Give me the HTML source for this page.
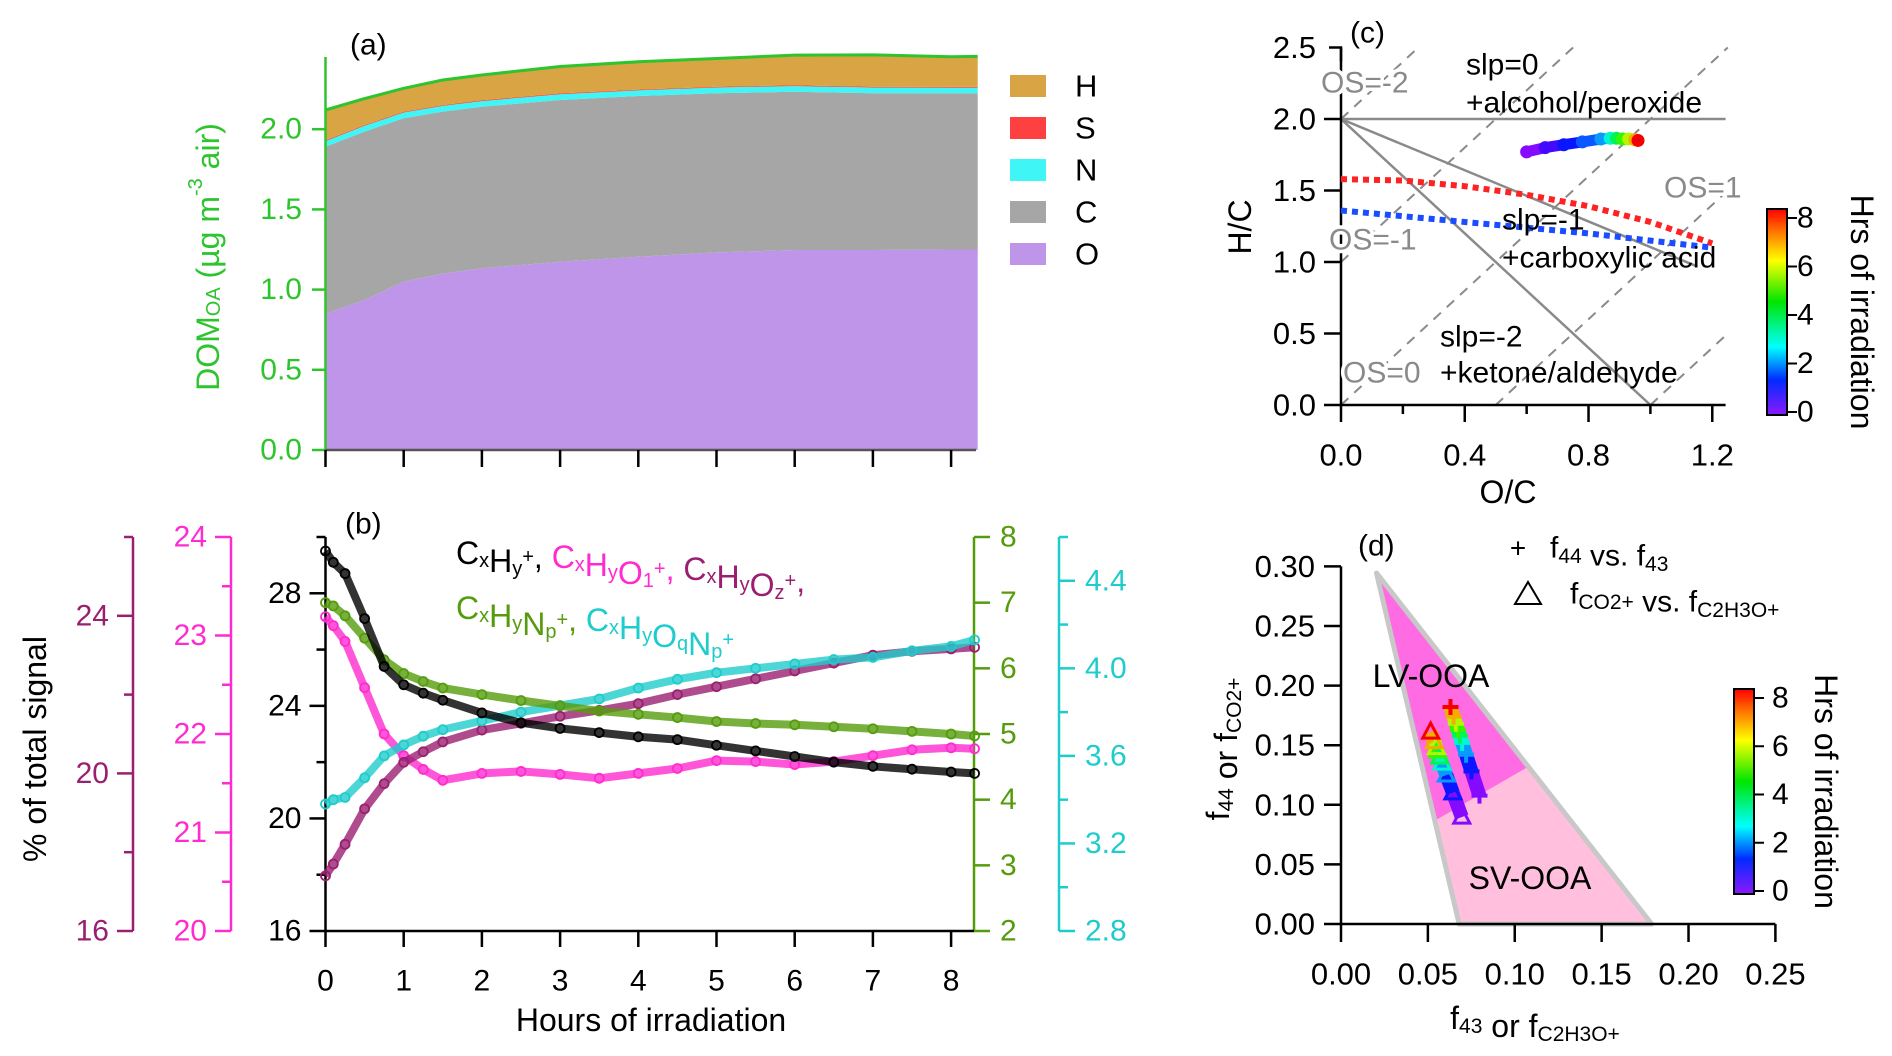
<!DOCTYPE html>
<html><head><meta charset="utf-8">
<style>
html,body{margin:0;padding:0;background:#fff;}
svg{display:block;font-family:"Liberation Sans",Arial,sans-serif;}
</style></head>
<body>
<svg id="fig" xmlns="http://www.w3.org/2000/svg" width="1892" height="1056" viewBox="0 0 1892 1056">
<defs>
<linearGradient id="rainbow" x1="0" y1="1" x2="0" y2="0">
<stop offset="0" stop-color="hsl(270,100%,55%)"/>
<stop offset="0.17" stop-color="hsl(230,100%,50%)"/>
<stop offset="0.33" stop-color="hsl(180,100%,50%)"/>
<stop offset="0.55" stop-color="hsl(120,100%,45%)"/>
<stop offset="0.75" stop-color="hsl(60,100%,50%)"/>
<stop offset="0.9" stop-color="hsl(25,100%,50%)"/>
<stop offset="1" stop-color="hsl(0,100%,50%)"/>
</linearGradient>
</defs>
<rect width="1892" height="1056" fill="#fff"/>
</svg>
<script>
// ---------- Panel (a) data ----------
const tA = [0,0.5,1,1.5,2,3,4,5,6,7,8,8.34];
const compO = [0.85,0.935,1.05,1.10,1.133,1.174,1.205,1.232,1.247,1.247,1.25,1.25];
const compC = [1.04,1.05,1.018,1.01,1.007,1.008,1.002,0.992,0.987,0.977,0.974,0.974];
const compN = [0.035,0.036,0.036,0.035,0.035,0.036,0.035,0.036,0.035,0.036,0.035,0.035];
const compS = [0.005,0.005,0.005,0.005,0.005,0.005,0.005,0.005,0.005,0.005,0.005,0.005];
const compH = [0.19,0.165,0.146,0.157,0.158,0.168,0.173,0.176,0.188,0.198,0.188,0.19];
const legendA = ["H","S","N","C","O"];
const ticksAy = [0,0.5,1.0,1.5,2.0];
// ---------- Panel (b) data ----------
const tB = [0,0.1,0.25,0.5,0.75,1,1.25,1.5,2,2.5,3,3.5,4,4.5,5,5.5,6,6.5,7,7.5,8,8.3];
const sBlack = [29.5,29.1,28.7,27.1,25.4,24.75,24.45,24.2,23.75,23.4,23.2,23.05,22.9,22.8,22.6,22.4,22.2,22.0,21.85,21.75,21.65,21.6];
const sGreen = [7.0,6.95,6.8,6.46,6.13,5.92,5.8,5.7,5.6,5.51,5.43,5.35,5.3,5.25,5.19,5.16,5.14,5.11,5.08,5.04,5.0,4.97];
const sMagenta = [23.19,23.1,22.94,22.47,22.0,21.78,21.64,21.53,21.6,21.62,21.59,21.55,21.6,21.65,21.73,21.72,21.69,21.72,21.78,21.84,21.86,21.85];
const sPurple = [17.4,17.7,18.2,19.1,19.74,20.28,20.55,20.8,21.1,21.27,21.45,21.6,21.77,22.0,22.2,22.4,22.6,22.8,23.0,23.1,23.16,23.2];
const sCyan = [3.38,3.4,3.41,3.5,3.6,3.65,3.69,3.72,3.76,3.8,3.83,3.86,3.91,3.95,3.98,4.0,4.02,4.04,4.05,4.08,4.1,4.13];
const ticksBx = [0,1,2,3,4,5,6,7,8];
const ticksBlack = [16,20,24,28];
const ticksPurple = [16,20,24];
const ticksMagenta = [20,21,22,23,24];
const ticksGreen = [2,3,4,5,6,7,8];
const ticksCyan = ["2.8","3.2","3.6","4.0","4.4"];
// ---------- Panel (c) data ----------
const tC = [0,0.5,1,1.5,2,3,4,5,6,7,8.3];
const ocC = [0.60,0.66,0.72,0.78,0.84,0.87,0.89,0.91,0.93,0.95,0.96];
const hcC = [1.77,1.80,1.82,1.84,1.86,1.865,1.865,1.86,1.86,1.855,1.85];
const ocCurve = [0,0.2,0.4,0.6,0.8,1.0,1.2];
const hcRed = [1.58,1.57,1.53,1.47,1.39,1.28,1.13];
const hcBlue = [1.36,1.32,1.28,1.24,1.2,1.15,1.1];
const ticksCx = ["0.0","0.4","0.8","1.2"];
const ticksCy = ["0.0","0.5","1.0","1.5","2.0","2.5"];
// ---------- Panel (d) data ----------
const tD = [0,1,2,3,4,5,6,7,8.3];
const f43Tri = [0.0695,0.0644,0.0606,0.0581,0.0569,0.0556,0.0549,0.0536,0.0516];
const f44Tri = [0.0897,0.11,0.125,0.135,0.14,0.145,0.148,0.153,0.161];
const f43Cross = [0.0797,0.0751,0.072,0.0697,0.0684,0.0673,0.0661,0.0648,0.063];
const f44Cross = [0.1077,0.128,0.142,0.152,0.158,0.163,0.168,0.174,0.182];
const ticksDx = ["0.00","0.05","0.10","0.15","0.20","0.25"];
const ticksDy = ["0.00","0.05","0.10","0.15","0.20","0.25","0.30"];
const ticksBar = [0,2,4,6,8];

const NS = "http://www.w3.org/2000/svg";
const svg = document.getElementById('fig');
function mk(tag, attrs, parent){
  const e = document.createElementNS(NS, tag);
  for (const k in attrs) e.setAttribute(k, attrs[k]);
  (parent||svg).appendChild(e);
  return e;
}
function txt(x,y,s,size,fill,anchor,extra){
  const e = mk('text', Object.assign({x:x,y:y,'font-size':size,fill:fill,'text-anchor':anchor||'start','dominant-baseline':'central'}, extra||{}));
  e.innerHTML = s;
  return e;
}
function tcol(t){ const h = Math.max(0, 270*(1 - t/8.3)); return 'hsl('+h.toFixed(0)+',100%,'+(h>200?52:48)+'%)'; }

// ====== Panel (a) ======
const XA = t => 325.5 + t*78.2;
const YA = v => 450 - v*160.4;
const green = '#2ec42e';
const aColors = {O:'#bf95ea', C:'#a6a6a6', N:'#3ff5f5', S:'#ff4040', H:'#d9a443'};
const comps = [['O',compO],['C',compC],['N',compN],['S',compS],['H',compH]];
let base = tA.map(()=>0);
comps.forEach(([k,arr])=>{
  const top = base.map((b,i)=>b+arr[i]);
  let d = 'M'+tA.map((t,i)=>XA(t).toFixed(1)+','+YA(top[i]).toFixed(1)).join('L');
  for (let i=tA.length-1;i>=0;i--) d += 'L'+XA(tA[i]).toFixed(1)+','+YA(base[i]).toFixed(1);
  const p = mk('path',{d:d+'Z',fill:aColors[k]});
  
  
  base = top;
});
{
  const p = mk('polyline',{points:tA.map((t,i)=>XA(t).toFixed(1)+','+YA(base[i]).toFixed(1)).join(' '),fill:'none',stroke:green,'stroke-width':3});
  
  
}
{
  const ax = mk('line',{x1:325.5,y1:57,x2:325.5,y2:450,stroke:green,'stroke-width':2.5});
  
  
  const bx = mk('line',{x1:325.5,y1:450,x2:976,y2:450,stroke:'#555','stroke-width':2.5});
  
  
}
ticksAy.forEach(v=>{
  const l = mk('line',{x1:312,y1:YA(v),x2:325.5,y2:YA(v),stroke:green,'stroke-width':2.5});
  
  
  const t = txt(302,YA(v),v.toFixed(1),30,green,'end');
  
  
});
ticksBx.forEach(v=>{
  const l = mk('line',{x1:XA(v),y1:450,x2:XA(v),y2:467,stroke:'#000','stroke-width':2.5});
  
  
});
{
  const t = txt(0,0,'DOM<tspan font-size="20" dy="6">OA</tspan><tspan dy="-6"> (µg m</tspan><tspan font-size="20" dy="-12">-3</tspan><tspan dy="12"> air)</tspan>',32,green,'middle',{transform:'translate(208,257) rotate(-90)'});
  
  
  const lab = txt(350,45,'(a)',30,'#000','start');
  
  
}
legendA.forEach((k,i)=>{
  const y = 86 + i*42;
  const r = mk('rect',{x:1010,y:y-11,width:36,height:22,fill:aColors[k]});
  
  
  const t = txt(1075,y,k,31,'#000','start');
  
  
});

// ====== Panel (b) ======
const XB = t => 325.5 + t*78.2;
const BT = 537, BB = 931;
const scale = (lo,hi) => v => BB - (v-lo)/(hi-lo)*(BB-BT);
const YBlack = scale(16,30), YPurple = scale(16,26), YMag = scale(20,24), YGreen = scale(2,8), YCyan = scale(2.8,4.6);
const cBlack='#000', cPurple='#9a1f70', cMag='#ff2bd0', cGreen='#559c0c', cCyan='#1fcccc';
function yAxis(x, ticks, yf, col, labelSide, minor, name){
  const ax = mk('line',{x1:x,y1:BT,x2:x,y2:BB,stroke:col,'stroke-width':2.5});
  
  
  (minor||[]).forEach(v=>{
    const l = mk('line',{x1:x,y1:yf(v),x2:x+(labelSide==='left'?-9:9),y2:yf(v),stroke:col,'stroke-width':2.5});
    
    
  });
  ticks.forEach(v=>{
    const n = parseFloat(v);
    const l = mk('line',{x1:x,y1:yf(n),x2:x+(labelSide==='left'?-16:16),y2:yf(n),stroke:col,'stroke-width':2.5});
    
    
    const t = txt(x+(labelSide==='left'?-24:26),yf(n),String(v),30,col,labelSide==='left'?'end':'start');
    
    
  });
}
yAxis(133, ticksPurple, YPurple, cPurple, 'left', [18,22,26], 'purple-y');
yAxis(231, ticksMagenta, YMag, cMag, 'left', [20.5,21.5,22.5,23.5], 'magenta-y');
yAxis(325.5, ticksBlack, YBlack, cBlack, 'left', [18,22,26,30], 'black-y');
yAxis(974, ticksGreen, YGreen, cGreen, 'right', [], 'green-y');
yAxis(1059, ticksCyan, YCyan, cCyan, 'right', [3.0,3.4,3.8,4.2,4.6], 'cyan-y');
{
  const bx = mk('line',{x1:325.5,y1:BB,x2:974,y2:BB,stroke:'#000','stroke-width':2.5});
  
  
}
ticksBx.forEach(v=>{
  const l = mk('line',{x1:XB(v),y1:BB,x2:XB(v),y2:BB+16,stroke:'#000','stroke-width':2.5});
  
  
  const t = txt(XB(v),BB+50,String(v),30,'#000','middle');
  
  
});
function series(vals, yf, col, name){
  const pl = mk('polyline',{points:tB.map((t,i)=>XB(t).toFixed(1)+','+yf(vals[i]).toFixed(1)).join(' '),fill:'none',stroke:col,'stroke-width':8,'stroke-opacity':0.8,'stroke-linejoin':'round'});
  
  
  tB.forEach((t,i)=>{
    const c = mk('circle',{cx:XB(t),cy:yf(vals[i]),r:4.5,fill:'none',stroke:col,'stroke-width':1.8});
    
    
  });
}
series(sMagenta, YMag, cMag, 'cxhyo1');
series(sPurple, YPurple, cPurple, 'cxhyoz');
series(sCyan, YCyan, cCyan, 'cxhyoqnp');
series(sGreen, YGreen, cGreen, 'cxhynp');
series(sBlack, YBlack, cBlack, 'cxhy');
{
  const t = txt(0,0,'% of total signal',32,'#000','middle',{transform:'translate(35,749) rotate(-90)'});
  
  
  const x = txt(651,1020,'Hours of irradiation',32,'#000','middle');
  
  
  const lab = txt(345,524,'(b)',30,'#000','start');
  
  
  const sub = s=>'<tspan font-size="20" dy="8">'+s+'</tspan><tspan dy="-8"></tspan>';
  const sup = s=>'<tspan font-size="20" dy="-12">'+s+'</tspan><tspan dy="12"></tspan>';
  const l1 = txt(456,553,'<tspan fill="'+cBlack+'">C'+sub('x')+'H'+sub('y')+sup('+')+', </tspan><tspan fill="'+cMag+'">C'+sub('x')+'H'+sub('y')+'O'+sub('1')+sup('+')+', </tspan><tspan fill="'+cPurple+'">C'+sub('x')+'H'+sub('y')+'O'+sub('z')+sup('+')+',</tspan>',32,'#000','start');
  
  
  const l2 = txt(456,608,'<tspan fill="'+cGreen+'">C'+sub('x')+'H'+sub('y')+'N'+sub('p')+sup('+')+', </tspan><tspan fill="'+cCyan+'">C'+sub('x')+'H'+sub('y')+'O'+sub('q')+'N'+sub('p')+sup('+')+'</tspan>',32,'#000','start');
  
  
}

// ====== Panel (c) ======
const XC = v => 1341 + v*309.4;
const YC = v => 405 - v*143;
const gray = '#8a8a8a';
[[ -2,0,2,0.25,2.5],[-1,0,1,0.75,2.5],[0,0,0,1.25,2.5],[1,0.5,0,1.243,1.486],[2,1.0,0,1.243,0.486]].forEach(s=>{
  const l = mk('line',{x1:XC(s[1]),y1:YC(s[2]),x2:XC(s[3]),y2:YC(s[4]),stroke:gray,'stroke-width':2,'stroke-dasharray':'10 8'});
  
  
});
[[0,2,1.243,2],[0,2,1.15,0.97],[0,2,1.0,0]].forEach(s=>{
  const l = mk('line',{x1:XC(s[0]),y1:YC(s[1]),x2:XC(s[2]),y2:YC(s[3]),stroke:gray,'stroke-width':2.5});
  
  
});
{
  const ax = mk('line',{x1:1341,y1:YC(2.5),x2:1341,y2:405,stroke:'#000','stroke-width':2.5});
  
  
  const br = mk('path',{d:'M1329,'+YC(2.5)+'H1341V'+(YC(2.5)+14),fill:'none',stroke:'#000','stroke-width':2.5});
  
  
  const bx = mk('line',{x1:1341,y1:405,x2:XC(1.243),y2:405,stroke:'#000','stroke-width':2.5});
  
  
}
ticksCy.forEach(v=>{
  const n = parseFloat(v);
  if (n<2.5){
    const l = mk('line',{x1:1324,y1:YC(n),x2:1341,y2:YC(n),stroke:'#000','stroke-width':2.5});
    
    
  }
  const t = txt(1316,YC(n),v,31,'#000','end');
  
  
});
[0.2,0.6,1.0].forEach(v=>{
  const l = mk('line',{x1:XC(v),y1:405,x2:XC(v),y2:414,stroke:'#000','stroke-width':2.5});
  
  
});
ticksCx.forEach(v=>{
  const n = parseFloat(v);
  const l = mk('line',{x1:XC(n),y1:405,x2:XC(n),y2:422,stroke:'#000','stroke-width':2.5});
  
  
  const t = txt(XC(n),455,v,31,'#000','middle');
  
  
});
[[hcRed,'#f22'],[hcBlue,'#1a4dff']].forEach(([arr,col],k)=>{
  const p = mk('polyline',{points:ocCurve.map((o,i)=>XC(o).toFixed(1)+','+YC(arr[i]).toFixed(1)).join(' '),fill:'none',stroke:col,'stroke-width':6,'stroke-dasharray':'6 5'});
  
  
});
for (let i=0;i<tC.length-1;i++){
  const s = mk('line',{x1:XC(ocC[i]),y1:YC(hcC[i]),x2:XC(ocC[i+1]),y2:YC(hcC[i+1]),stroke:tcol(tC[i]),'stroke-width':11,'stroke-linecap':'round'});
  
  
}
tC.forEach((t,i)=>{
  const c = mk('circle',{cx:XC(ocC[i]),cy:YC(hcC[i]),r:6.5,fill:tcol(t)});
  
  
});
[
 ['OS=-2',1321,83,gray,'os-minus2-label'],['OS=1',1664,188,gray,'os-1-label'],['OS=-1',1329,240,gray,'os-minus1-label'],['OS=0',1343,373,gray,'os-0-label'],
 ['slp=0',1466,65,'#000','slp0-label'],['+alcohol/peroxide',1466,103,'#000','alcohol-label'],['slp=-1',1502,220,'#000','slp-1-label'],
 ['+carboxylic acid',1502,258,'#000','carboxylic-label'],['slp=-2',1440,337,'#000','slp-2-label'],['+ketone/aldehyde',1440,373,'#000','ketone-label']
].forEach(a=>{
  const extra = a[3]===gray ? {stroke:'#fff','stroke-width':7,'paint-order':'stroke'} : {};
  const t = txt(a[1],a[2],a[0],30,a[3],'start',extra);
  
  
});
{
  const t = txt(1350,33,'(c)',30,'#000','start');
  
  
  const y = txt(0,0,'H/C',32,'#000','middle',{transform:'translate(1240,227) rotate(-90)'});
  
  
  const x = txt(1508,492,'O/C',32,'#000','middle');
  
  
}
function colorbar(x,top,bot,labx,titlex,name){
  const r = mk('rect',{x:x,y:top,width:20,height:bot-top,fill:'url(#rainbow)',stroke:'#000','stroke-width':2});
  
  
  const yf = v => bot-3 - v/8*(bot-3-top-9);
  ticksBar.forEach(v=>{
    const l = mk('line',{x1:x+20,y1:yf(v),x2:x+30,y2:yf(v),stroke:'#000','stroke-width':2});
    
    
    const t = txt(labx,yf(v),String(v),30,'#000','start');
    
    
  });
  const tt = txt(0,0,'Hrs of irradiation',32,'#000','middle',{transform:'translate('+titlex+','+((top+bot)/2)+') rotate(90)'});
  
  
}
colorbar(1767,209,415,1797,1862,'c-colorbar');

// ====== Panel (d) ======
const XD = v => 1341 + v*1737.6;
const YD = v => 924 - v*1192;
{
  const sv = mk('polygon',{points:[[0.0204,0.2945],[0.068,0],[0.1788,0]].map(p=>XD(p[0])+','+YD(p[1])).join(' '),fill:'#ffbfdd'});
  
  
  const lv = mk('polygon',{points:[[0.0204,0.2945],[0.054,0.0867],[0.1078,0.132]].map(p=>XD(p[0])+','+YD(p[1])).join(' '),fill:'#ff6be3'});
  
  
  const ol = mk('polygon',{points:[[0.0204,0.2945],[0.068,0],[0.1788,0]].map(p=>XD(p[0])+','+YD(p[1])).join(' '),fill:'none',stroke:'#c8c8c8','stroke-width':5,'stroke-linejoin':'round'});
  
  
}
for (let i=0;i<tD.length-1;i++){
  const s1 = mk('line',{x1:XD(f43Tri[i]),y1:YD(f44Tri[i]),x2:XD(f43Tri[i+1]),y2:YD(f44Tri[i+1]),stroke:tcol(tD[i]),'stroke-width':14});
  
  
  const s2 = mk('line',{x1:XD(f43Cross[i]),y1:YD(f44Cross[i]),x2:XD(f43Cross[i+1]),y2:YD(f44Cross[i+1]),stroke:tcol(tD[i]),'stroke-width':14});
  
  
}
tD.forEach((t,i)=>{
  const x = XD(f43Tri[i]), y = YD(f44Tri[i]);
  const tr = mk('path',{d:'M'+x+','+(y-9)+'L'+(x+8)+','+(y+6)+'L'+(x-8)+','+(y+6)+'Z',fill:'none',stroke:tcol(t),'stroke-width':3});
  
  
  const cx = XD(f43Cross[i]), cy = YD(f44Cross[i]);
  const cr = mk('path',{d:'M'+(cx-8)+','+cy+'H'+(cx+8)+'M'+cx+','+(cy-8)+'V'+(cy+8),stroke:tcol(t),'stroke-width':4});
  
  
});
{
  const ax = mk('line',{x1:1341,y1:YD(0.3),x2:1341,y2:924,stroke:'#000','stroke-width':2.5});
  
  
  const bx = mk('line',{x1:1341,y1:924,x2:XD(0.25),y2:924,stroke:'#000','stroke-width':2.5});
  
  
}
ticksDy.forEach(v=>{
  const n = parseFloat(v);
  const l = mk('line',{x1:1324,y1:YD(n),x2:1341,y2:YD(n),stroke:'#000','stroke-width':2.5});
  
  
  const t = txt(1315,YD(n),v,31,'#000','end');
  
  
});
ticksDx.forEach(v=>{
  const n = parseFloat(v);
  const l = mk('line',{x1:XD(n),y1:924,x2:XD(n),y2:942,stroke:'#000','stroke-width':2.5});
  
  
  const t = txt(XD(n),974,v,31,'#000','middle');
  
  
});
{
  const s = (a)=>'<tspan font-size="21" dy="8">'+a+'</tspan><tspan dy="-8"></tspan>';
  const lv = txt(1431,676,'LV-OOA',32,'#000','middle');
  
  
  const sv = txt(1530,878,'SV-OOA',32,'#000','middle');
  
  
  const dl = txt(1358,546,'(d)',30,'#000','start');
  
  
  const pm = txt(1518,548,'+',28,'#000','middle');
  
  
  const l1 = txt(1550,548,'f'+s('44')+' vs. f'+s('43'),30,'#000','start');
  
  
  const tm = mk('path',{d:'M1528,582L1541,604L1515,604Z',fill:'none',stroke:'#000','stroke-width':2});
  
  
  const l2 = txt(1570,594,'f'+s('CO2+')+' vs. f'+s('C2H3O+'),30,'#000','start');
  
  
  const yt = txt(0,0,'f'+s('44')+' or f'+s('CO2+'),32,'#000','middle',{transform:'translate(1218,749) rotate(-90)'});
  
  
  const xt = txt(1535,1018,'f'+s('43')+' or f'+s('C2H3O+'),32,'#000','middle');
  
  
}
colorbar(1734,689,894,1772,1826,'d-colorbar');
</script>
</body></html>
